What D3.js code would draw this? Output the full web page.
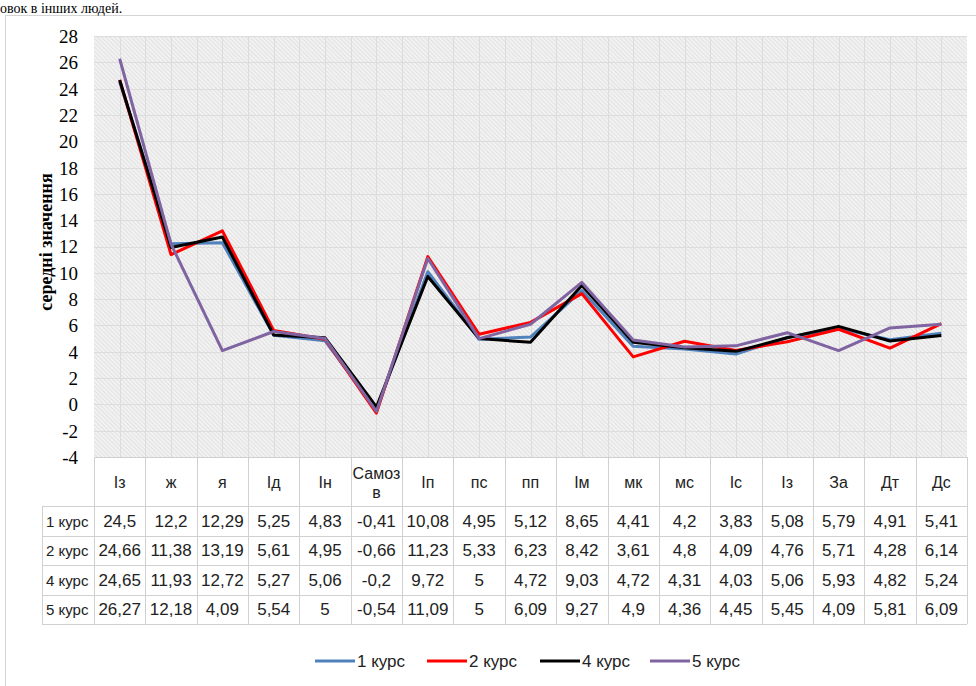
<!DOCTYPE html>
<html>
<head>
<meta charset="utf-8">
<title>середні значення</title>
<script src="https://cdn.jsdelivr.net/npm/d3@7"></script>
<style>
  body { margin: 0; background: #fff; }
  svg { display: block; }
  .tick text { font-family: "Liberation Serif", "Times New Roman", serif; }
  .tbl { font-family: "Liberation Sans Narrow", "Arial Narrow", Arial, sans-serif; fill: #222; }
</style>
</head>
<body>
<script>
// categories and series
var cats = ["Із", "ж", "я", "Ід", "Ін", "Самоз в", "Іп", "пс", "пп", "Ім", "мк", "мс", "Іс", "Із", "За", "Дт", "Дс"];
var kurs1 = [24.5, 12.2, 12.29, 5.25, 4.83, -0.41, 10.08, 4.95, 5.12, 8.65, 4.41, 4.2, 3.83, 5.08, 5.79, 4.91, 5.41];
var kurs2 = [24.66, 11.38, 13.19, 5.61, 4.95, -0.66, 11.23, 5.33, 6.23, 8.42, 3.61, 4.8, 4.09, 4.76, 5.71, 4.28, 6.14];
var kurs4 = [24.65, 11.93, 12.72, 5.27, 5.06, -0.2, 9.72, 5, 4.72, 9.03, 4.72, 4.31, 4.03, 5.06, 5.93, 4.82, 5.24];
var kurs5 = [26.27, 12.18, 4.09, 5.54, 5, -0.54, 11.09, 5, 6.09, 9.27, 4.9, 4.36, 4.45, 5.45, 4.09, 5.81, 6.09];
var seriesNames = ["1 курс", "2 курс", "4 курс", "5 курс"];
var yTicks = [-4, -2, 0, 2, 4, 6, 8, 10, 12, 14, 16, 18, 20, 22, 24, 26, 28];

var series = [
  {name: seriesNames[0], values: kurs1, color: "#4f81bd"},
  {name: seriesNames[1], values: kurs2, color: "#ff0000"},
  {name: seriesNames[2], values: kurs4, color: "#000000"},
  {name: seriesNames[3], values: kurs5, color: "#8064a2"}
];

var W = 976, H = 686;
var plot = {left: 94, right: 967, top: 36, bottom: 457};
var headH = 49, rowH = 29.5, labelX = 42;

var svg = d3.select("body").append("svg").attr("width", W).attr("height", H);

// chart frame
svg.append("rect").attr("x", 5.5).attr("y", 15.5).attr("width", 1000).attr("height", 700)
  .attr("fill", "#fff").attr("stroke", "#d4d4d4");

// end of the sentence above the chart
svg.append("text").attr("x", 0).attr("y", 13)
  .style("font-family", "'Liberation Serif', serif").style("font-size", "14px")
  .text("овок в інших людей.");

var defs = svg.append("defs");
var pat = defs.append("pattern").attr("id", "hatch").attr("patternUnits", "userSpaceOnUse")
  .attr("width", 3).attr("height", 3).attr("patternTransform", "rotate(-45)");
pat.append("rect").attr("width", 3).attr("height", 3).attr("fill", "#f2f2f2");
pat.append("line").attr("x1", 0).attr("y1", 0).attr("x2", 0).attr("y2", 3)
  .attr("stroke", "#d6d6d6").attr("stroke-width", 1.2);

var x = d3.scaleBand().domain(d3.range(cats.length)).range([plot.left, plot.right]);
var y = d3.scaleLinear().domain([-4, 28]).range([plot.bottom, plot.top]);
var cx = function(i) { return x(i) + x.bandwidth() / 2; };

svg.append("rect").attr("x", plot.left).attr("y", plot.top)
  .attr("width", plot.right - plot.left).attr("height", plot.bottom - plot.top)
  .attr("fill", "url(#hatch)");

// grid: horizontal at ticks, vertical at every half category
var grid = svg.append("g").attr("stroke", "#dcdcdc").attr("stroke-width", 1);
grid.selectAll("line.h").data(yTicks).enter().append("line").attr("class", "h")
  .attr("x1", plot.left).attr("x2", plot.right)
  .attr("y1", function(d) { return Math.round(y(d)) + 0.5; })
  .attr("y2", function(d) { return Math.round(y(d)) + 0.5; });
var halfSteps = d3.range(1, cats.length * 2);
grid.selectAll("line.v").data(halfSteps).enter().append("line").attr("class", "v")
  .attr("y1", plot.top).attr("y2", plot.bottom)
  .attr("x1", function(d) { return Math.round(plot.left + d * x.bandwidth() / 2) + 0.5; })
  .attr("x2", function(d) { return Math.round(plot.left + d * x.bandwidth() / 2) + 0.5; });

// y axis
var yAxis = svg.append("g").attr("transform", "translate(" + (plot.left - 16) + ",0)")
  .call(d3.axisLeft(y).tickValues(yTicks).tickFormat(String).tickSize(0).tickPadding(0));
yAxis.select(".domain").remove();
yAxis.selectAll("text").style("font-size", "19px").attr("fill", "#000").attr("dy", "0.34em");

svg.append("text")
  .attr("transform", "translate(52," + 242 + ") rotate(-90)")
  .attr("text-anchor", "middle")
  .style("font-family", "'Liberation Serif', serif").style("font-size", "18px")
  .style("font-weight", "bold")
  .text("середні значення");

// lines
var line = d3.line().x(function(d, i) { return cx(i); }).y(function(d) { return y(d); });
svg.append("g").selectAll("path").data(series).enter().append("path")
  .attr("d", function(s) { return line(s.values); })
  .attr("fill", "none").attr("stroke", function(s) { return s.color; })
  .attr("stroke-width", 3).attr("stroke-linejoin", "round");

// data table
var tbl = svg.append("g");
var tTop = plot.bottom, rowsTop = tTop + headH, tBottom = rowsTop + rowH * series.length;
tbl.append("rect").attr("x", plot.left).attr("y", tTop)
  .attr("width", plot.right - plot.left).attr("height", headH).attr("fill", "#fff");
tbl.append("rect").attr("x", labelX).attr("y", rowsTop)
  .attr("width", plot.right - labelX).attr("height", tBottom - rowsTop).attr("fill", "#fff");

var tg = tbl.append("g").attr("stroke", "#d0d0d0").attr("stroke-width", 1);
// vertical cell borders
tg.selectAll("line.cv").data(d3.range(cats.length + 1)).enter().append("line")
  .attr("x1", function(i) { return Math.round(plot.left + i * x.bandwidth()) + 0.5; })
  .attr("x2", function(i) { return Math.round(plot.left + i * x.bandwidth()) + 0.5; })
  .attr("y1", tTop).attr("y2", tBottom);
tg.append("line").attr("x1", labelX + 0.5).attr("x2", labelX + 0.5).attr("y1", rowsTop).attr("y2", tBottom);
// horizontal borders
tg.append("line").attr("x1", plot.left).attr("x2", plot.right).attr("y1", tTop + 0.5).attr("y2", tTop + 0.5);
tg.selectAll("line.rh").data(d3.range(series.length + 1)).enter().append("line")
  .attr("x1", labelX).attr("x2", plot.right)
  .attr("y1", function(r) { return Math.round(rowsTop + r * rowH) + 0.5; })
  .attr("y2", function(r) { return Math.round(rowsTop + r * rowH) + 0.5; });

// header
tbl.selectAll("text.hd").data(cats).enter().append("text").attr("class", "tbl hd")
  .attr("text-anchor", "middle").style("font-size", "16px").attr("fill", "#333")
  .each(function(c, i) {
    var words = c.split(" ");
    var t = d3.select(this);
    var y0 = tTop + headH / 2 + 6 - (words.length - 1) * 9;
    words.forEach(function(w, k) {
      t.append("tspan").attr("x", cx(i)).attr("y", y0 + k * 19).text(w);
    });
  });

// rows
var fmt = function(v) { return String(v).replace(".", ","); };
series.forEach(function(s, r) {
  var ty = rowsTop + r * rowH + rowH / 2 + 6;
  tbl.append("text").attr("class", "tbl").attr("x", labelX + 4).attr("y", ty)
    .style("font-size", "15px").text(s.name);
  tbl.selectAll(null).data(s.values).enter().append("text").attr("class", "tbl")
    .attr("x", function(d, i) { return cx(i); }).attr("y", ty)
    .attr("text-anchor", "middle").style("font-size", "17px")
    .text(fmt);
});

// legend
var legX = [315, 427, 540, 650];
var leg = svg.append("g").selectAll("g").data(series).enter().append("g")
  .attr("transform", function(s, i) { return "translate(" + legX[i] + ",661)"; });
leg.append("line").attr("x1", 0).attr("x2", 40).attr("y1", 0).attr("y2", 0)
  .attr("stroke", function(s) { return s.color; }).attr("stroke-width", 3);
leg.append("text").attr("class", "tbl").attr("x", 42).attr("y", 6)
  .style("font-size", "17px").text(function(s) { return s.name; });
</script>
</body>
</html>
